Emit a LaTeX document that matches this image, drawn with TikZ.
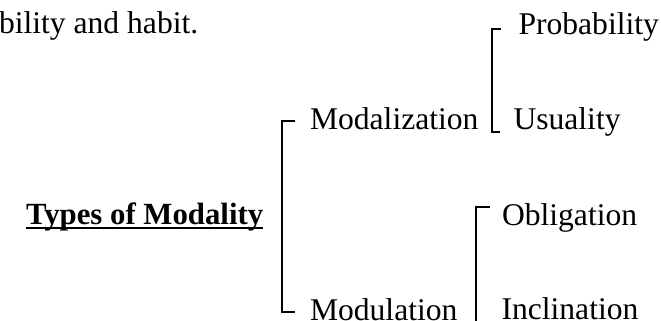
\documentclass[tikz,border=0pt]{standalone}
\usepackage{fontspec}
\setmainfont{Liberation Serif}
\begin{document}
\begin{tikzpicture}[x=1pt,y=-1pt,
  lbl/.style={anchor=base west,inner sep=0pt,outer sep=0pt,font=\fontsize{31.6}{37}\selectfont},
  brk/.style={line width=1.6pt}]
\clip (0,0) rectangle (661,321);
\node[lbl] (intro) at (-1,34) {bility and habit.};
\node[lbl,font=\fontsize{30.8}{37}\selectfont\bfseries] (types) at (26,224) {Types of Modality};
\draw[line width=2.4pt] ([yshift=-4pt]types.base west) -- ([yshift=-4pt]types.base east);
\node[lbl] (modz) at (310,129) {Modalization};
\node[lbl] (modu) at (310,320) {Modulation};
\node[lbl] (prob) at (518.5,35) {Probability};
\node[lbl] (usu) at (513.5,129) {Usuality};
\node[lbl] (obl) at (502,225) {Obligation};
\node[lbl] (incl) at (501.5,319) {Inclination};
% main bracket
\coordinate (a1) at (295,121);
\coordinate (a2) at (295,312);
\draw[brk] (a1) -- (282,121) -- (282,312) -- (a2);
% modalization bracket
\coordinate (b1) at (501,29);
\coordinate (b2) at (500,132);
\draw[brk] (b1) -- (492,29) -- (492,132) -- (b2);
% modulation bracket
\coordinate (c1) at (490,207);
\coordinate (c2) at (490,326);
\draw[brk] (c1) -- (476,207) -- (476,326) -- (c2);
\end{tikzpicture}
\end{document}
